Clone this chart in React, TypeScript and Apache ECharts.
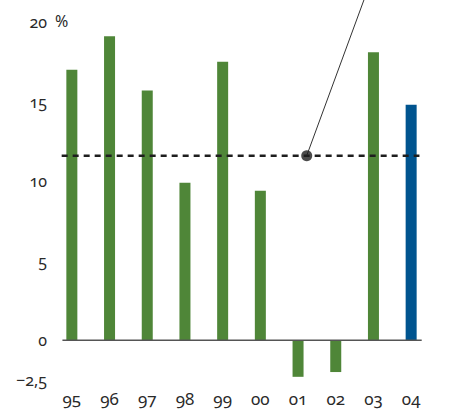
import React, { useEffect, useRef } from "react";
import * as echarts from "echarts";

const categories = ["95", "96", "97", "98", "99", "00", "01", "02", "03", "04"];
const values = [17.0, 19.1, 15.7, 9.9, 17.5, 9.4, -2.3, -2.0, 18.1, 14.8];
const highlightIndex = 9;
const averageValue = 11.6;
const averageSpan = [-0.27, 9.22];
const zeroSpan = [-0.25, 9.28];
const dotPoint = [6.23, 11.6];
const leaderEnd = [7.75, 21.4];
const yTicksShown = [20, 15, 10, 5, 0, -2.5];

const GREEN = "#4f8638";
const BLUE = "#00548f";
const FONT = "'Noto Sans', sans-serif";

export default function App() {
  const ref = useRef<HTMLDivElement>(null);
  useEffect(() => {
    const chart = echarts.init(ref.current!, undefined, { renderer: "svg" });
    chart.setOption({
      animation: false,
      grid: { left: 53, right: 36, top: 22, bottom: 32, outerBoundsMode: "none", containLabel: false },
      xAxis: [
        {
          type: "category",
          data: categories,
          axisLine: { show: false },
          axisTick: { show: false },
          axisLabel: { color: "#2a2a2a", fontSize: 17, fontFamily: FONT, margin: 10 },
        },
        { type: "value", min: -0.5, max: 9.5, show: false },
      ],
      yAxis: {
        type: "value",
        min: -2.5,
        max: 20,
        interval: 2.5,
        splitLine: { show: false },
        axisLine: { show: false },
        axisTick: { show: false },
        axisLabel: {
          color: "#2a2a2a",
          fontSize: 16,
          fontFamily: FONT,
          margin: 6,
          formatter: (v: number) =>
            yTicksShown.includes(v) ? String(v).replace("-", "\u2212").replace(".", ",") : "",
        },
      },
      graphic: [
        {
          type: "text",
          left: 55,
          top: 13,
          style: { text: "%", fontSize: 16, fontFamily: FONT, fill: "#2a2a2a" },
        },
      ],
      series: [
        {
          type: "bar",
          data: values.map((v, i) => ({
            value: v,
            itemStyle: { color: i === highlightIndex ? BLUE : GREEN },
          })),
          barWidth: 11,
          xAxisIndex: 0,
          z: 2,
        },
        {
          type: "line",
          xAxisIndex: 1,
          data: [[zeroSpan[0], 0], [zeroSpan[1], 0]],
          symbol: "none",
          lineStyle: { color: "#555", width: 1.5 },
          z: 3,
          clip: false,
        },
        {
          type: "line",
          xAxisIndex: 1,
          data: [[averageSpan[0], averageValue], [averageSpan[1], averageValue]],
          symbol: "none",
          lineStyle: { color: "#1e1e1e", width: 2.5, type: [6, 5] },
          z: 4,
          clip: false,
        },
        {
          type: "line",
          xAxisIndex: 1,
          data: [dotPoint, leaderEnd],
          symbol: "none",
          lineStyle: { color: "#333", width: 1 },
          z: 5,
          clip: false,
        },
        {
          type: "scatter",
          xAxisIndex: 1,
          data: [dotPoint],
          symbolSize: 11,
          itemStyle: { color: "#1e1e1e" },
          z: 6,
        },
      ],
    });
    return () => chart.dispose();
  }, []);
  return (
    <>
      <style>{`body{margin:0} #root svg text{font-variant-numeric: oldstyle-nums; font-feature-settings: "onum" 1;}`}</style>
      <div ref={ref} style={{ width: 466, height: 412 }} />
    </>
  );
}
